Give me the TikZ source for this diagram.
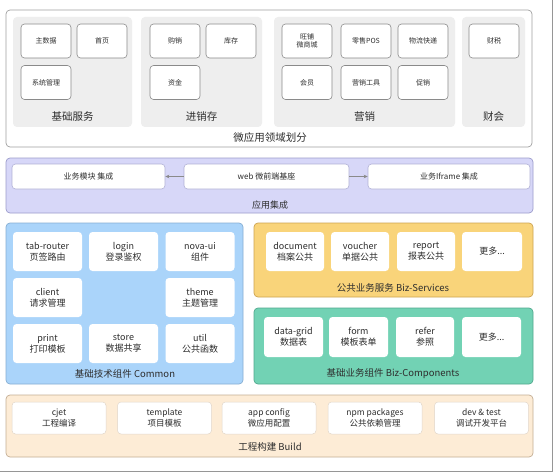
\documentclass[tikz,border=0pt]{standalone}
\usepackage{fontspec}
\setmainfont{Noto Sans CJK SC}
\usetikzlibrary{arrows.meta}
\definecolor{txt}{HTML}{2E2E2E}
\definecolor{frm}{HTML}{8A8A8A}
\definecolor{grp}{HTML}{EEEEEE}
\definecolor{lav}{HTML}{D7D7F8}
\definecolor{lavb}{HTML}{9C9CCB}
\definecolor{blu}{HTML}{AAD4FA}
\definecolor{blub}{HTML}{86AED3}
\definecolor{org}{HTML}{F9D47A}
\definecolor{orgb}{HTML}{CDA452}
\definecolor{grn}{HTML}{72D2B4}
\definecolor{grnb}{HTML}{52A88E}
\definecolor{pch}{HTML}{FDECD6}
\definecolor{pchb}{HTML}{C4AE94}
\tikzset{
  x=1pt, y=-1pt,
  every node/.style={text=txt, inner sep=0pt, align=center},
  panel/.style={rounded corners=4pt, line width=0.7pt},
  grpbox/.style={fill=grp, rounded corners=4pt},
  sbox/.style={draw=frm, fill=white, rounded corners=3.5pt, line width=0.6pt,
    minimum width=50pt, minimum height=34pt, font=\fontsize{7}{8.5}\selectfont},
  wbox/.style={fill=white, rounded corners=3.5pt, font=\fontsize{9}{11}\selectfont},
  pbox/.style={draw=lavb!80, fill=white, rounded corners=3.5pt, line width=0.6pt,
    minimum height=25pt, font=\fontsize{8}{9}\selectfont},
  bbox/.style={draw=pchb!50, fill=white, rounded corners=3.5pt, line width=0.5pt,
    minimum width=94pt, minimum height=32pt, font=\fontsize{8.5}{10.5}\selectfont},
  glabel/.style={font=\fontsize{10.5}{12}\selectfont},
  tlabel/.style={font=\fontsize{9.5}{11}\selectfont},
  conn/.style={draw=frm, line width=0.6pt, -{Stealth[length=4pt,width=3.5pt]}},
}
\begin{document}
\begin{tikzpicture}
\useasboundingbox (0,0) rectangle (559,476);
\fill[white] (0,0) rectangle (559,476);
% outer frame lines
\coordinate (ftop) at (552,0);
\coordinate (fcorner) at (552,471);
\coordinate (fleft) at (0,471);
\draw[frm!90, line width=0.7pt] (ftop) -- (fcorner) -- (fleft);

% ===== domain section =====
\draw[panel, draw=frm!80, fill=white] (6,10) rectangle (532,147);
\node[glabel] (domlbl) at (270,138) {微应用领域划分};
\fill[grpbox] (13,17) rectangle (132,127);
\fill[grpbox] (141,17) rectangle (262,127);
\fill[grpbox] (274,17) rectangle (455,127);
\fill[grpbox] (462,17) rectangle (525,127);
\node[glabel] (g1) at (72.5,117) {基础服务};
\node[glabel] (g2) at (201.5,117) {进销存};
\node[glabel] (g3) at (364.5,117) {营销};
\node[glabel] (g4) at (493.5,117) {财会};

\node[sbox] (zsj) at (46,41) {主数据};
\node[sbox] (sy) at (102,41) {首页};
\node[sbox] (xtgl) at (46,82.5) {系统管理};
\node[sbox] (gx) at (175,41) {购销};
\node[sbox] (kc) at (231,41) {库存};
\node[sbox] (zj) at (175,82.5) {资金};
\node[sbox] (wp) at (307,41) {旺铺\\微商城};
\node[sbox] (pos) at (366,41) {零售POS};
\node[sbox] (wl) at (423,41) {物流快递};
\node[sbox] (hy) at (307,82.5) {会员};
\node[sbox] (yxgj) at (366,82.5) {营销工具};
\node[sbox] (cx) at (423,82.5) {促销};
\node[sbox] (cs) at (494,41) {财税};

% ===== app integration =====
\draw[panel, draw=lavb, fill=lav] (6,158) rectangle (533,213);
\node[tlabel, font=\fontsize{9}{11}\selectfont] (applbl) at (270,205) {应用集成};
\node[pbox, minimum width=153pt] (mod) at (88.5,176.5) {业务模块 集成};
\node[pbox, minimum width=165pt] (web) at (266.5,176.5) {web 微前端基座};
\node[pbox, minimum width=162pt] (ifr) at (449,176.5) {业务Iframe 集成};
\draw[conn] (web) -- (mod);
\draw[conn] (web) -- (ifr);

% ===== common =====
\draw[panel, draw=blub, fill=blu] (6,223) rectangle (243,384);
\node[tlabel] (comlbl) at (125,374) {基础技术组件 Common};
\node[wbox, minimum width=69pt, minimum height=39pt] (tab) at (47.5,251.5) {tab-router\\页签路由};
\node[wbox, minimum width=69pt, minimum height=39pt] (login) at (123.5,251.5) {login\\登录鉴权};
\node[wbox, minimum width=69pt, minimum height=39pt] (nova) at (200,251.5) {nova-ui\\组件};
\node[wbox, minimum width=69pt, minimum height=39pt] (client) at (47.5,297.5) {client\\请求管理};
\node[wbox, minimum width=69pt, minimum height=39pt] (theme) at (200,297.5) {theme\\主题管理};
\node[wbox, minimum width=69pt, minimum height=39pt] (print) at (47.5,343.5) {print\\打印模板};
\node[wbox, minimum width=69pt, minimum height=39pt] (store) at (123.5,343.5) {store\\数据共享};
\node[wbox, minimum width=69pt, minimum height=39pt] (util) at (200,343.5) {util\\公共函数};

% ===== biz services =====
\draw[panel, draw=orgb, fill=org] (254,223) rectangle (533,297);
\node[tlabel] (svclbl) at (393,288) {公共业务服务 Biz-Services};
\node[wbox, minimum width=58pt, minimum height=39pt] (doc) at (295,251.5) {document\\档案公共};
\node[wbox, minimum width=58pt, minimum height=39pt] (vou) at (360,251.5) {voucher\\单据公共};
\node[wbox, minimum width=58pt, minimum height=39pt] (rep) at (426,251.5) {report\\报表公共};
\node[wbox, minimum width=60pt, minimum height=39pt] (more1) at (492,251.5) {更多...};

% ===== biz components =====
\draw[panel, draw=grnb, fill=grn] (254,308) rectangle (533,384);
\node[tlabel] (cmplbl) at (393,374) {基础业务组件 Biz-Components};
\node[wbox, minimum width=59pt, minimum height=40pt] (grid) at (293.5,337) {data-grid\\数据表};
\node[wbox, minimum width=59pt, minimum height=40pt] (form) at (358.5,337) {form\\模板表单};
\node[wbox, minimum width=58pt, minimum height=40pt] (refer) at (425,337) {refer\\参照};
\node[wbox, minimum width=59pt, minimum height=40pt] (more2) at (491.5,337) {更多...};

% ===== build =====
\draw[panel, draw=pchb, fill=pch] (6,395) rectangle (533,457);
\node[tlabel] (bldlbl) at (270,447) {工程构建 Build};
\node[bbox] (cjet) at (59,418) {cjet\\工程编译};
\node[bbox] (tpl) at (164.5,418) {template\\项目模板};
\node[bbox] (cfg) at (269,418) {app config\\微应用配置};
\node[bbox] (npm) at (375,418) {npm packages\\公共依赖管理};
\node[bbox] (dev) at (481.5,418) {dev \& test\\调试开发平台};
\end{tikzpicture}
\end{document}
